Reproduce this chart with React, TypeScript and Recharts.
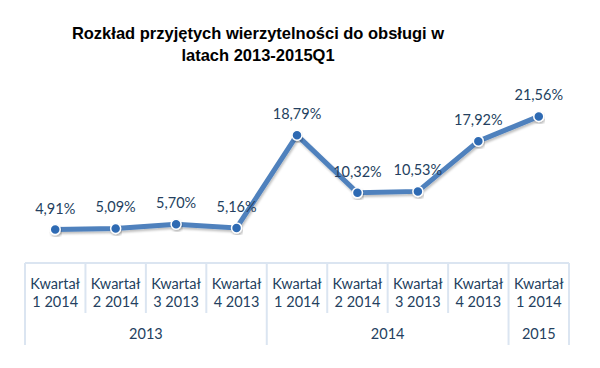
import React from 'react';
import { LineChart, Line, XAxis, YAxis, LabelList } from 'recharts';

// quarter labels (second line under "Kwartał"), as printed in the source
const quarters = ['1 2014', '2 2014', '3 2013', '4 2013', '1 2014', '2 2014', '3 2013', '4 2013', '1 2014'];
const years = ['2013', '2013', '2013', '2013', '2014', '2014', '2014', '2014', '2015'];
const shares = [4.91, 5.09, 5.7, 5.16, 18.79, 10.32, 10.53, 17.92, 21.56];

const data = shares.map((v, i) => ({ id: 'q' + i, quarter: quarters[i], year: years[i], value: v }));

const W = 600;
const H = 368;
const M = { top: 93, right: 31, bottom: 20, left: 25 };
const PLOT_W = W - M.left - M.right;
const BAND = PLOT_W / data.length;
const GRID = '#dbe5f1';
const TXT = '#243f60';
const FONT = 'Lato, "Noto Sans", sans-serif';

const fmt = (v: number) => v.toFixed(2).replace('.', ',') + '%';

const QuarterTick = (props: any) => {
  const { x, y, payload } = props;
  const i = payload.index;
  const left = x - BAND / 2;
  const groupStart = i === 0 || years[i] !== years[i - 1];
  const last = i === data.length - 1;
  let yearLabel = null;
  if (groupStart) {
    let n = 1;
    while (i + n < years.length && years[i + n] === years[i]) n++;
    yearLabel = (
      <text x={left + (n * BAND) / 2} y={y + 76} textAnchor="middle" fill={TXT} fontSize={14.5} fontFamily={FONT}>
        {years[i]}
      </text>
    );
  }
  return (
    <g>
      <line x1={left} x2={left} y1={y} y2={groupStart ? y + 82 : y + 50} stroke={GRID} strokeWidth={2} />
      {last && <line x1={left + BAND} x2={left + BAND} y1={y} y2={y + 82} stroke={GRID} strokeWidth={2} />}
      <text x={x} y={y + 26} textAnchor="middle" fill={TXT} fontSize={14.5} fontFamily={FONT}>
        Kwartał
      </text>
      <text x={x} y={y + 44} textAnchor="middle" fill={TXT} fontSize={14.5} fontFamily={FONT}>
        {quarters[i]}
      </text>
      {yearLabel}
    </g>
  );
};

const ValueLabel = (props: any) => {
  const { x, y, value } = props;
  return (
    <text x={x} y={y - 16} textAnchor="middle" fill={TXT} fontSize={14.5} fontFamily={FONT}>
      {fmt(value)}
    </text>
  );
};

export default function App() {
  return (
    <div style={{ position: 'absolute', left: 0, top: 0, width: W, height: H, background: '#fff' }}>
      <div
        style={{
          position: 'absolute',
          left: 0,
          top: 22,
          width: 516,
          textAlign: 'center',
          fontFamily: '"Liberation Sans", Arial, sans-serif',
          fontWeight: 'bold',
          fontSize: 16.5,
          lineHeight: '22px',
          color: '#000',
        }}
      >
        Rozkład przyjętych wierzytelności do obsługi w
        <br />
        latach 2013-2015Q1
      </div>
      <LineChart width={W} height={H} data={data} margin={M}>
        <defs>
          <filter id="shadow" x="-10%" y="-10%" width="120%" height="130%">
            <feDropShadow dx="1" dy="2" stdDeviation="1.2" floodColor="#000" floodOpacity="0.25" />
          </filter>
        </defs>
        <XAxis
          dataKey="id"
          height={85}
          tickLine={false}
          tickSize={0}
          tickMargin={0}
          padding={{ left: BAND / 2, right: BAND / 2 }}
          axisLine={{ stroke: GRID, strokeWidth: 2 }}
          tick={<QuarterTick />}
          interval={0}
        />
        <YAxis hide domain={[0, 25]} />
        <Line
          dataKey="value"
          stroke="#4f81bd"
          strokeWidth={5}
          filter="url(#shadow)"
          dot={{ r: 5, fill: '#2f6bb3', stroke: '#fff', strokeWidth: 1.5 }}
          isAnimationActive={false}
        >
          <LabelList dataKey="value" content={<ValueLabel />} />
        </Line>
      </LineChart>
    </div>
  );
}
